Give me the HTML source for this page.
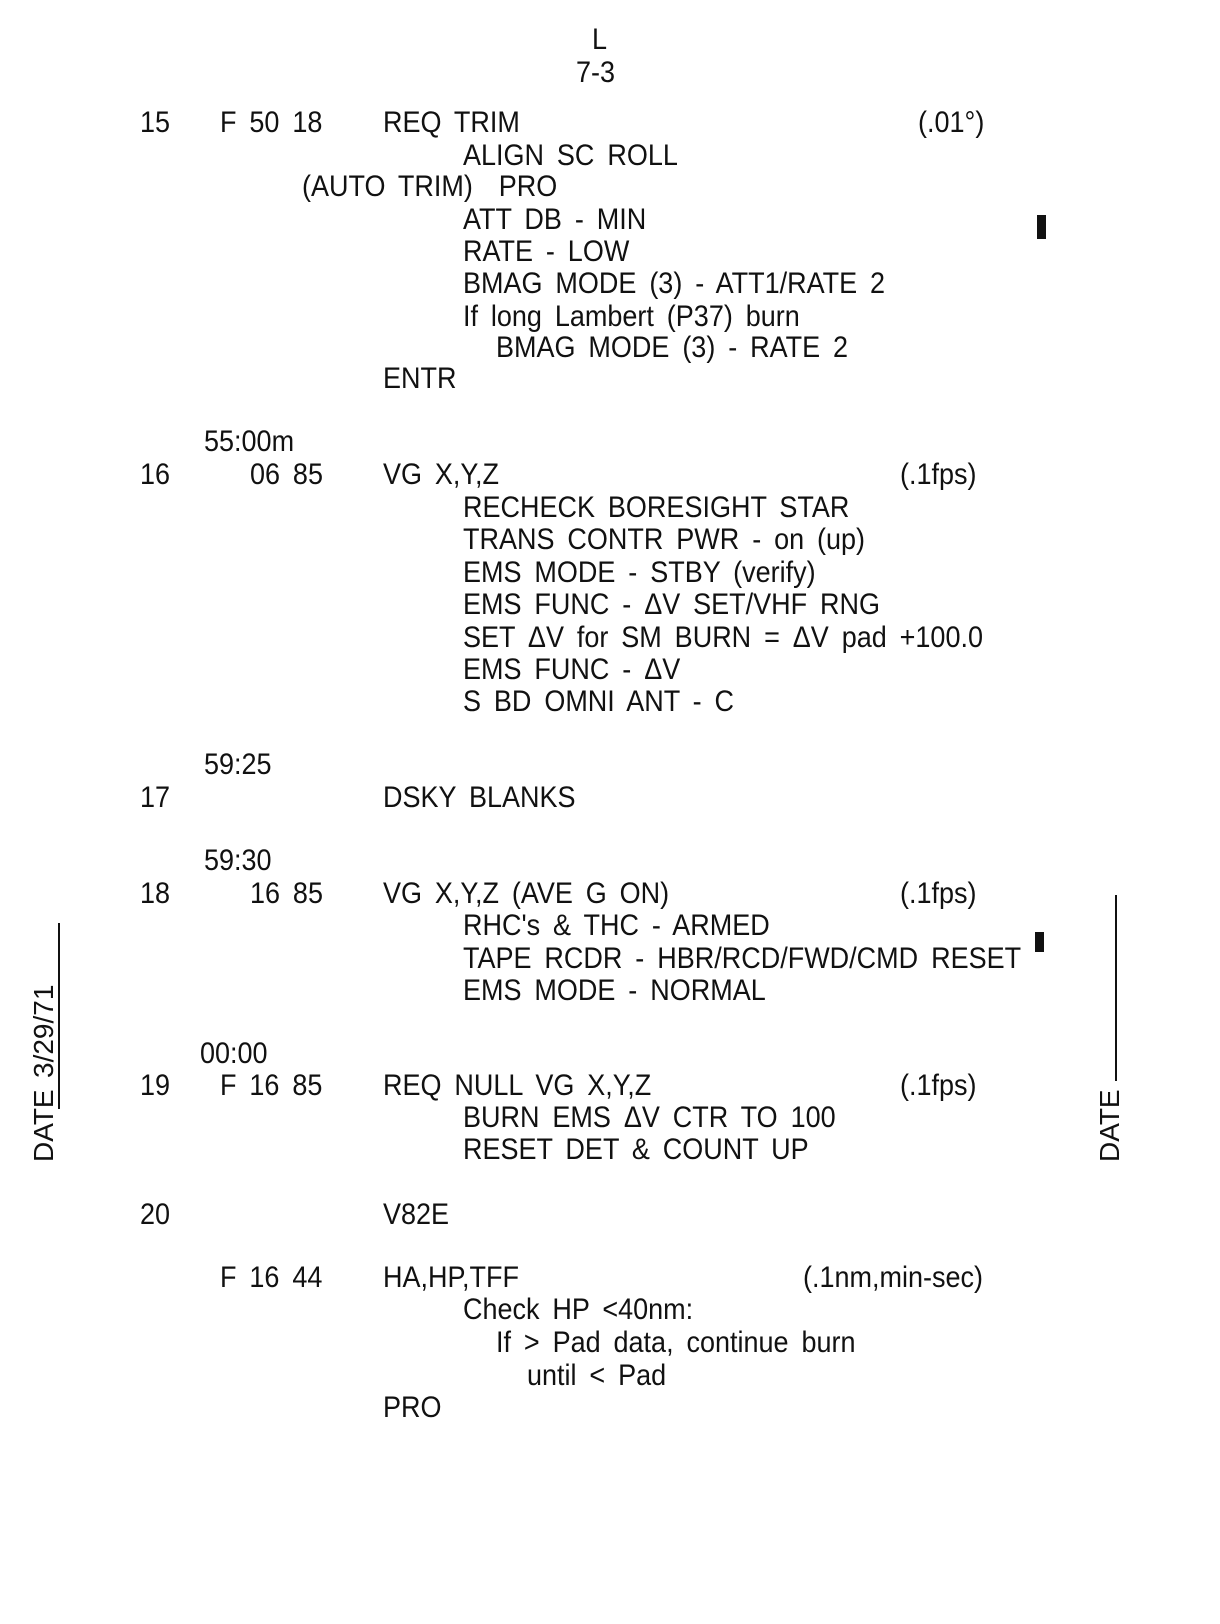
<!DOCTYPE html>
<html><head><meta charset="utf-8"><style>
html,body{margin:0;padding:0;background:#fff;}
body{width:1220px;height:1624px;position:relative;overflow:hidden;font-family:"Liberation Sans",sans-serif;color:#111;}
.t{position:absolute;font-size:30px;line-height:28px;white-space:pre;word-spacing:6px;transform:scaleX(0.9);transform-origin:left top;}
.r{position:absolute;font-size:28px;line-height:28px;white-space:pre;transform:rotate(-90deg);transform-origin:left top;}
.ln{position:absolute;background:#111;}
</style></head><body>
<div class="t" style="left:592px;top:26px">L</div>
<div class="t" style="left:576px;top:59px">7-3</div>

<div class="t" style="left:140px;top:109px">15</div>
<div class="t" style="left:220px;top:109px">F 50 18</div>
<div class="t" style="left:383px;top:109px">REQ TRIM</div>
<div class="t" style="left:918px;top:109px">(.01°)</div>
<div class="t" style="left:463px;top:142px">ALIGN SC ROLL</div>
<div class="t" style="left:302px;top:173px">(AUTO TRIM)  PRO</div>
<div class="t" style="left:463px;top:206px">ATT DB - MIN</div>
<div class="t" style="left:463px;top:238px">RATE - LOW</div>
<div class="t" style="left:463px;top:270px">BMAG MODE (3) - ATT1/RATE 2</div>
<div class="t" style="left:463px;top:303px">If long Lambert (P37) burn</div>
<div class="t" style="left:496px;top:334px">BMAG MODE (3) - RATE 2</div>
<div class="t" style="left:383px;top:365px">ENTR</div>
<div class="ln" style="left:1037px;top:215px;width:9px;height:24px"></div>

<div class="t" style="left:204px;top:428px">55:00m</div>
<div class="t" style="left:140px;top:461px">16</div>
<div class="t" style="left:250px;top:461px">06 85</div>
<div class="t" style="left:383px;top:461px">VG X,Y,Z</div>
<div class="t" style="left:900px;top:461px">(.1fps)</div>
<div class="t" style="left:463px;top:494px">RECHECK BORESIGHT STAR</div>
<div class="t" style="left:463px;top:526px">TRANS CONTR PWR - on (up)</div>
<div class="t" style="left:463px;top:559px">EMS MODE - STBY (verify)</div>
<div class="t" style="left:463px;top:591px">EMS FUNC - ΔV SET/VHF RNG</div>
<div class="t" style="left:463px;top:624px">SET ΔV for SM BURN = ΔV pad +100.0</div>
<div class="t" style="left:463px;top:656px">EMS FUNC - ΔV</div>
<div class="t" style="left:463px;top:688px">S BD OMNI ANT - C</div>

<div class="t" style="left:204px;top:751px">59:25</div>
<div class="t" style="left:140px;top:784px">17</div>
<div class="t" style="left:383px;top:784px">DSKY BLANKS</div>

<div class="t" style="left:204px;top:847px">59:30</div>
<div class="t" style="left:140px;top:880px">18</div>
<div class="t" style="left:250px;top:880px">16 85</div>
<div class="t" style="left:383px;top:880px">VG X,Y,Z (AVE G ON)</div>
<div class="t" style="left:900px;top:880px">(.1fps)</div>
<div class="t" style="left:463px;top:912px">RHC's &amp; THC - ARMED</div>
<div class="t" style="left:463px;top:945px">TAPE RCDR - HBR/RCD/FWD/CMD RESET</div>
<div class="t" style="left:463px;top:977px">EMS MODE - NORMAL</div>
<div class="ln" style="left:1035px;top:932px;width:9px;height:20px"></div>

<div class="t" style="left:200px;top:1040px">00:00</div>
<div class="t" style="left:140px;top:1072px">19</div>
<div class="t" style="left:220px;top:1072px">F 16 85</div>
<div class="t" style="left:383px;top:1072px">REQ NULL VG X,Y,Z</div>
<div class="t" style="left:900px;top:1072px">(.1fps)</div>
<div class="t" style="left:463px;top:1104px">BURN EMS ΔV CTR TO 100</div>
<div class="t" style="left:463px;top:1136px">RESET DET &amp; COUNT UP</div>

<div class="t" style="left:140px;top:1201px">20</div>
<div class="t" style="left:383px;top:1201px">V82E</div>

<div class="t" style="left:220px;top:1264px">F 16 44</div>
<div class="t" style="left:383px;top:1264px">HA,HP,TFF</div>
<div class="t" style="left:803px;top:1264px">(.1nm,min-sec)</div>
<div class="t" style="left:463px;top:1296px">Check HP &lt;40nm:</div>
<div class="t" style="left:496px;top:1329px">If &gt; Pad data, continue burn</div>
<div class="t" style="left:527px;top:1362px">until &lt; Pad</div>
<div class="t" style="left:383px;top:1394px">PRO</div>

<div class="r" style="left:30px;top:1162px">DATE</div>
<div class="r" style="left:30px;top:1078px">3/29/71</div>
<div class="ln" style="left:58px;top:923px;width:2px;height:186px"></div>
<div class="r" style="left:1096px;top:1162px">DATE</div>
<div class="ln" style="left:1115px;top:895px;width:2px;height:186px"></div>
</body></html>
